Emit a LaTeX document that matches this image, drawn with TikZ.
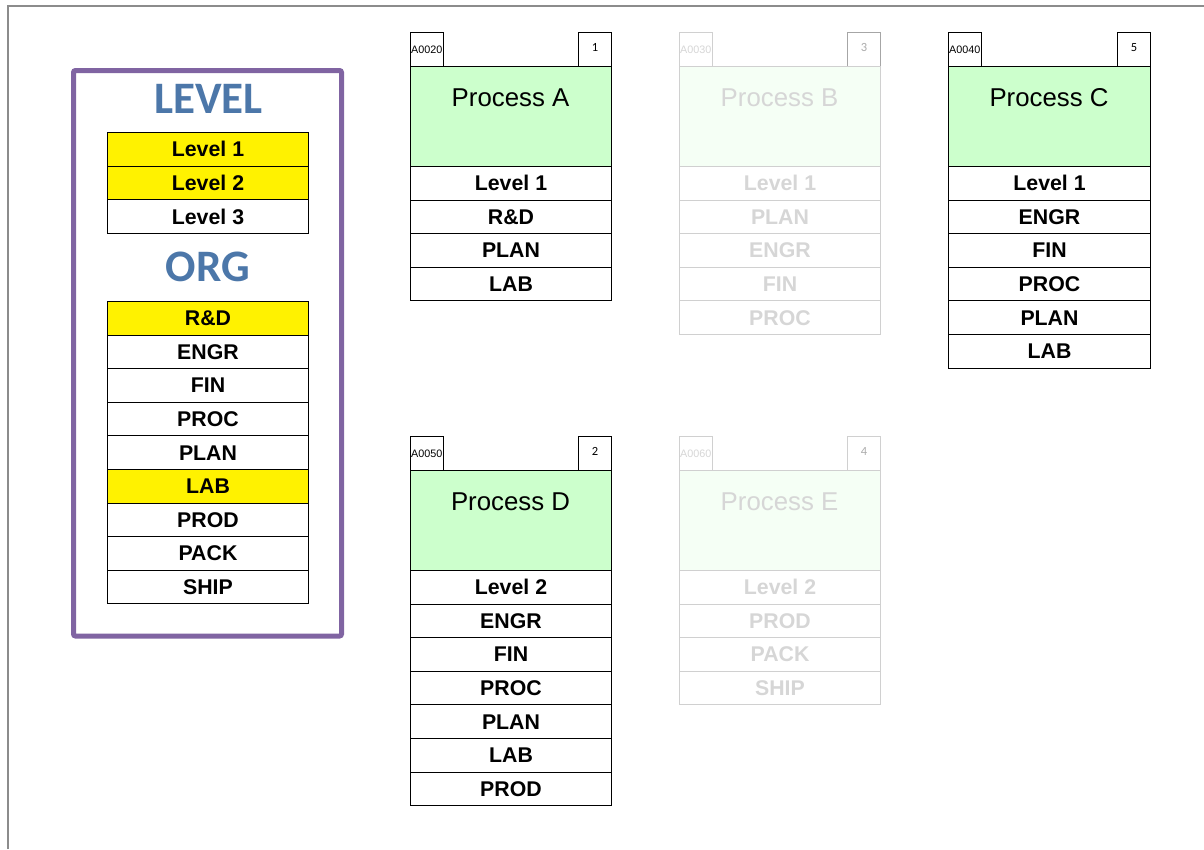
\documentclass[tikz,border=0pt]{standalone}
\usepackage{fontspec}
\setmainfont{Liberation Sans}
\newfontfamily\calfont{Carlito}
\definecolor{frame}{HTML}{8064A2}
\definecolor{headblue}{HTML}{4C77A9}
\definecolor{procgreen}{HTML}{CCFFCC}
\definecolor{fadegreen}{HTML}{F5FFF5}
\definecolor{fadeline}{HTML}{D0D0D0}
\definecolor{fadetext}{HTML}{D6D6D6}
\definecolor{pagegray}{HTML}{8C8C8C}
\tikzset{
  row/.style={draw=black, line width=1pt, minimum width=201pt, minimum height=33.6pt,
    inner sep=0pt, anchor=north west, font=\fontsize{21.3}{21.3}\selectfont\bfseries},
  hirow/.style={row, fill=yellow},
  frow/.style={row, draw=fadeline, text=fadetext},
  title/.style={draw=black, line width=1pt, fill=procgreen, minimum width=201pt, minimum height=100pt,
    inner sep=0pt, anchor=north west},
  ftitle/.style={title, draw=fadeline, fill=fadegreen},
  ttext/.style={font=\fontsize{25.8}{25.8}\selectfont, anchor=center},
  tab/.style={draw=black, line width=1pt, fill=white, minimum width=33pt, minimum height=34pt,
    inner sep=0pt, anchor=north west},
  ftab/.style={tab, draw=fadeline},
  idtext/.style={font=\fontsize{10.8}{10.8}\selectfont, anchor=west, inner sep=0pt},
  numtext/.style={font=\calfont\fontsize{12.5}{12.5}\selectfont, anchor=center, inner sep=0pt},
  head/.style={font=\calfont\fontsize{45}{45}\selectfont\bfseries, text=headblue, anchor=center}
}
\begin{document}
\begin{tikzpicture}[x=1pt,y=-1pt]
\useasboundingbox (0,0) rectangle (1204,849);
% page border
\draw[pagegray, line width=2pt] (8,849) -- (8,5.5) -- (1204,5.5);

% legend panel
\draw[frame, line width=5pt, rounded corners=2pt] (73.5,70.5) rectangle (341.5,636);
\node[head] (lvlhead) at (208.5,99) {LEVEL};
\node[hirow] (L1) at (107,132) {Level 1};
\node[hirow] (L2) at (107,165.6) {Level 2};
\node[row] (L3) at (107,199.2) {Level 3};
\node[head] (orghead) at (208,267) {ORG};
\node[hirow] (O1) at (107,301) {R\&D};
\node[row] (O2) at (107,334.6) {ENGR};
\node[row] (O3) at (107,368.2) {FIN};
\node[row] (O4) at (107,401.8) {PROC};
\node[row] (O5) at (107,435.4) {PLAN};
\node[hirow] (O6) at (107,469) {LAB};
\node[row] (O7) at (107,502.6) {PROD};
\node[row] (O8) at (107,536.2) {PACK};
\node[row] (O9) at (107,569.8) {SHIP};

% Process A
\node[tab] (Atl) at (410,32) {};
\node[tab] (Atr) at (578,32) {};
\node[idtext] (Aid) at ([xshift=1pt]Atl.west) {A0020};
\node[numtext] (Anum) at ([yshift=2pt]Atr.center) {1};
\node[title] (At) at (410,66) {};
\node[ttext] (Att) at (510.5,98) {Process A};
\foreach \t [count=\i] in {Level 1,R\&D,PLAN,LAB}
  \node[row] (A\i) at (410,166+33.6*\i-33.6) {\t};

% Process B (faded)
\node[ftab] (Btl) at (679,32) {};
\node[ftab, draw=fadeline!80!black] (Btr) at (847,32) {};
\node[idtext, text=fadetext] (Bid) at ([xshift=1pt]Btl.west) {A0030};
\node[numtext, text=fadetext!80!black] (Bnum) at ([yshift=2pt]Btr.center) {3};
\node[ftitle] (Bt) at (679,66) {};
\node[ttext, text=fadetext] (Btt) at (779.5,98) {Process B};
\foreach \t [count=\i] in {Level 1,PLAN,ENGR,FIN,PROC}
  \node[frow] (B\i) at (679,166+33.6*\i-33.6) {\t};

% Process C
\node[tab] (Ctl) at (948,32) {};
\node[tab] (Ctr) at (1117,32) {};
\node[idtext] (Cid) at ([xshift=1pt]Ctl.west) {A0040};
\node[numtext] (Cnum) at ([yshift=2pt]Ctr.center) {5};
\node[title, minimum width=202pt] (Ct) at (948,66) {};
\node[ttext] (Ctt) at (1049,98) {Process C};
\foreach \t [count=\i] in {Level 1,ENGR,FIN,PROC,PLAN,LAB}
  \node[row, minimum width=202pt] (C\i) at (948,166+33.6*\i-33.6) {\t};

% Process D
\node[tab] (Dtl) at (410,436) {};
\node[tab] (Dtr) at (578,436) {};
\node[idtext] (Did) at ([xshift=1pt]Dtl.west) {A0050};
\node[numtext] (Dnum) at ([yshift=2pt]Dtr.center) {2};
\node[title] (Dt) at (410,470) {};
\node[ttext] (Dtt) at (510.5,502) {Process D};
\foreach \t [count=\i] in {Level 2,ENGR,FIN,PROC,PLAN,LAB,PROD}
  \node[row] (D\i) at (410,570+33.6*\i-33.6) {\t};

% Process E (faded)
\node[ftab] (Etl) at (679,436) {};
\node[ftab] (Etr) at (847,436) {};
\node[idtext, text=fadetext] (Eid) at ([xshift=1pt]Etl.west) {A0060};
\node[numtext, text=fadetext!80!black] (Enum) at ([yshift=2pt]Etr.center) {4};
\node[ftitle] (Et) at (679,470) {};
\node[ttext, text=fadetext] (Ett) at (779.5,502) {Process E};
\foreach \t [count=\i] in {Level 2,PROD,PACK,SHIP}
  \node[frow] (E\i) at (679,570+33.6*\i-33.6) {\t};
\end{tikzpicture}
\end{document}
